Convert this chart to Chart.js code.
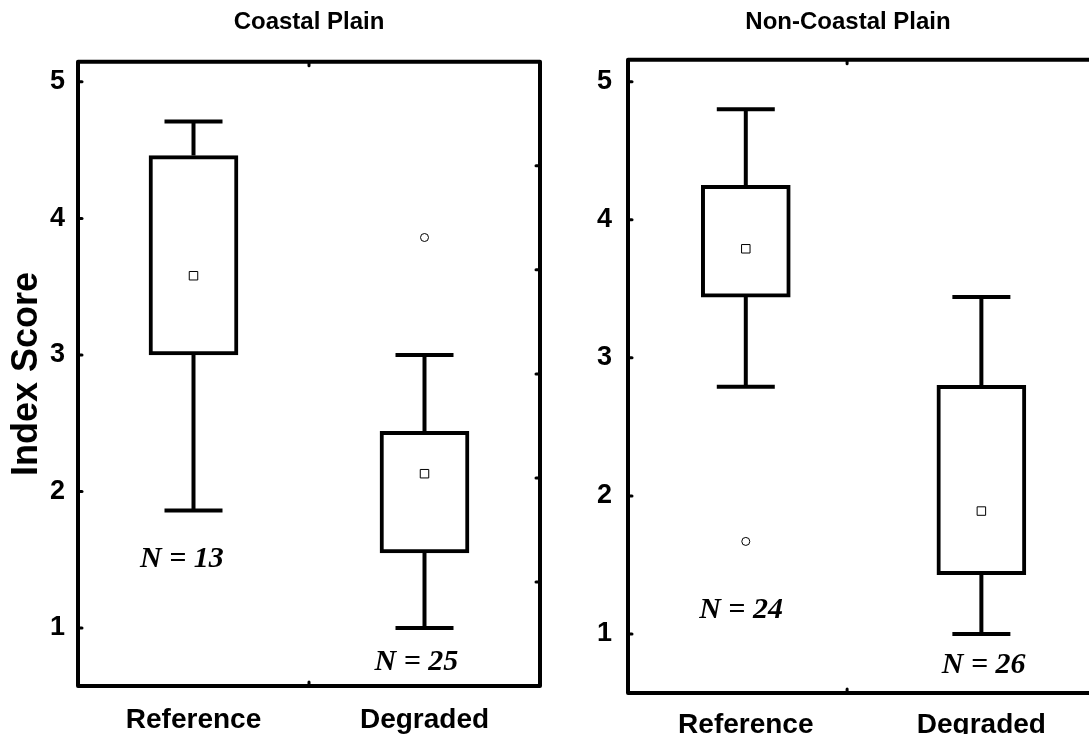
<!DOCTYPE html>
<html>
<head>
<meta charset="utf-8">
<script src="https://cdn.jsdelivr.net/npm/chart.js@4.4.1/dist/chart.umd.min.js"></script>
<style>
  html, body { margin: 0; padding: 0; background: #fff; overflow: hidden; }
  #wrap { position: relative; width: 1089px; height: 734px; overflow: hidden; }
  #leftBox { position: absolute; left: 0; top: 0; width: 545px; height: 734px; }
  #rightBox { position: absolute; left: 545px; top: 0; width: 606px; height: 734px; }
</style>
</head>
<body>
<div id="wrap">
  <div id="leftBox"><canvas id="coastalChart"></canvas></div>
  <div id="rightBox"><canvas id="nonCoastalChart"></canvas></div>
</div>
<script>
const groups = ['Reference', 'Degraded'];
const yTicks = [1, 2, 3, 4, 5];
const rightEdgeTicks = [1, 2, 3, 4, 5];

// Coastal Plain
const coastalMin = [1.86, 1.00];
const coastalQ1 = [3.00, 1.55];
const coastalQ3 = [4.46, 2.44];
const coastalMax = [4.71, 3.00];
const coastalMean = [3.58, 2.13];
const coastalOutliers = [[], [3.86]];
const coastalN = ['N = 13', 'N = 25'];

// Non-Coastal Plain
const nonCoastalMin = [2.79, 1.00];
const nonCoastalQ1 = [3.44, 1.43];
const nonCoastalQ3 = [4.25, 2.80];
const nonCoastalMax = [4.80, 3.44];
const nonCoastalMean = [3.79, 1.89];
const nonCoastalOutliers = [[1.67], []];
const nonCoastalN = ['N = 24', 'N = 26'];

Chart.defaults.font.family = '"Liberation Sans", Arial, sans-serif';
Chart.defaults.color = '#000';

// frame, inward ticks and the N = .. notes
const framePlugin = {
    id: 'framePlugin',
    afterDatasetsDraw(chart, args, opts) {
        const { ctx, chartArea: a, scales } = chart;
        ctx.save();
        ctx.strokeStyle = '#000';
        ctx.fillStyle = '#000';
        ctx.lineWidth = 4;
        ctx.lineJoin = 'round';
        ctx.strokeRect(a.left, a.top, a.right - a.left, a.bottom - a.top);

        ctx.lineWidth = 3;
        ctx.lineCap = 'round';
        const tick = (x1, y1, x2, y2) => {
            ctx.beginPath();
            ctx.moveTo(x1, y1);
            ctx.lineTo(x2, y2);
            ctx.stroke();
        };
        scales.y.ticks.forEach(t => {
            const py = scales.y.getPixelForValue(t.value);
            tick(a.left, py, a.left + 4, py);
        });
        if (scales.y2) {
            scales.y2.ticks.forEach(t => {
                const py = scales.y2.getPixelForValue(t.value);
                tick(a.right, py, a.right - 4, py);
            });
        }
        opts.xMarks.forEach(v => {
            const px = scales.x.getPixelForValue(v);
            tick(px, a.top, px, a.top + 4);
            tick(px, a.bottom, px, a.bottom - 4);
        });

        ctx.font = 'italic bold 30px "Liberation Serif", "Times New Roman", serif';
        ctx.textAlign = 'center';
        ctx.textBaseline = 'middle';
        opts.notes.forEach((text, i) => {
            ctx.fillText(text,
                scales.x.getPixelForValue(opts.noteX[i]),
                scales.y.getPixelForValue(opts.noteY[i]));
        });
        ctx.restore();
    }
};

function makeBoxChart(canvasId, d, look) {
    const stems = [];
    const caps = [];
    const boxes = [];
    const means = [];
    const outliers = [];
    groups.forEach((g, i) => {
        const x = i + 1;
        stems.push({ x: x, y: d.q3[i] }, { x: x, y: d.max[i] }, { x: x, y: null });
        stems.push({ x: x, y: d.q1[i] }, { x: x, y: d.min[i] }, { x: x, y: null });
        caps.push({ x: x, y: d.max[i] }, { x: x, y: d.min[i] });
        boxes.push({ x: x, y: [d.q1[i], d.q3[i]] });
        means.push({ x: x, y: d.mean[i] });
        d.outliers[i].forEach(v => outliers.push({ x: x, y: v }));
    });

    const scales = {
        x: {
            type: 'linear',
            min: 0.5,
            max: look.xMax,
            offset: false,
            grid: { display: false, offset: false },
            border: { display: false },
            afterBuildTicks: s => { s.ticks = groups.map((g, i) => ({ value: i + 1 })); },
            afterFit: s => { s.height = look.xAxisHeight; },
            ticks: {
                callback: v => groups[v - 1],
                font: { size: 28, weight: 'bold' },
                padding: look.xPad,
                maxRotation: 0,
                autoSkip: false
            }
        },
        y: {
            type: 'linear',
            min: look.yMin,
            max: look.yMax,
            grid: { display: false },
            border: { display: false },
            afterBuildTicks: s => { s.ticks = yTicks.map(v => ({ value: v })); },
            afterFit: s => { s.width = look.yAxisWidth; },
            ticks: {
                font: { size: 27, weight: 'bold' },
                padding: look.yPad
            },
            title: {
                display: !!look.yTitle,
                text: look.yTitle || '',
                font: { size: 36, weight: 'bold' },
                padding: { top: 5, bottom: 0 }
            }
        }
    };
    if (look.rightAxis) {
        scales.y2 = {
            type: 'linear',
            position: 'right',
            min: 0,
            max: 6,
            grid: { display: false },
            border: { display: false },
            afterBuildTicks: s => { s.ticks = rightEdgeTicks.map(v => ({ value: v })); },
            afterFit: s => { s.width = 0; },
            ticks: { display: false }
        };
    }

    const ctx = document.getElementById(canvasId).getContext('2d');
    return new Chart(ctx, {
        type: 'bar',
        data: {
            datasets: [
                {
                    type: 'scatter',
                    data: means,
                    pointStyle: 'rect',
                    pointRadius: 6,
                    backgroundColor: '#fff',
                    borderColor: '#000',
                    borderWidth: 1
                },
                {
                    type: 'scatter',
                    data: outliers,
                    pointStyle: 'circle',
                    pointRadius: 4,
                    backgroundColor: '#fff',
                    borderColor: '#000',
                    borderWidth: 1
                },
                {
                    type: 'bar',
                    data: boxes,
                    grouped: false,
                    barThickness: 89,
                    backgroundColor: '#fff',
                    borderColor: '#000',
                    borderWidth: 4,
                    borderSkipped: false
                },
                {
                    type: 'scatter',
                    data: caps,
                    pointStyle: 'line',
                    pointRadius: 29,
                    borderColor: '#000',
                    borderWidth: 4
                },
                {
                    type: 'line',
                    data: stems,
                    spanGaps: false,
                    pointRadius: 0,
                    borderColor: '#000',
                    borderWidth: 4,
                    fill: false
                }
            ]
        },
        options: {
            responsive: true,
            maintainAspectRatio: false,
            animation: false,
            events: [],
            layout: {
                autoPadding: false,
                padding: { left: 0, right: look.padRight, top: 0, bottom: 0 }
            },
            scales: scales,
            plugins: {
                legend: { display: false },
                tooltip: { enabled: false },
                title: {
                    display: true,
                    text: look.title,
                    fullSize: look.titleFull,
                    font: { size: 24, weight: 'bold' },
                    padding: look.titlePad
                },
                framePlugin: {
                    xMarks: look.xMarks,
                    notes: d.notes,
                    noteX: look.noteX,
                    noteY: look.noteY
                }
            }
        },
        plugins: [framePlugin]
    });
}

makeBoxChart('coastalChart', {
    min: coastalMin, q1: coastalQ1, q3: coastalQ3, max: coastalMax,
    mean: coastalMean, outliers: coastalOutliers, notes: coastalN
}, {
    title: 'Coastal Plain',
    titleFull: false,
    titlePad: { top: 8, bottom: 25 },
    yTitle: 'Index Score',
    xMax: 2.5,
    yMin: 0.575, yMax: 5.147,
    yAxisWidth: 78, xAxisHeight: 48,
    yPad: 5, xPad: 9,
    padRight: 5,
    rightAxis: true,
    xMarks: [1.5],
    noteX: [0.95, 1.965],
    noteY: [1.50, 0.75]
});

makeBoxChart('nonCoastalChart', {
    min: nonCoastalMin, q1: nonCoastalQ1, q3: nonCoastalQ3, max: nonCoastalMax,
    mean: nonCoastalMean, outliers: nonCoastalOutliers, notes: nonCoastalN
}, {
    title: 'Non-Coastal Plain',
    titleFull: true,
    titlePad: { top: 8, bottom: 23 },
    yTitle: null,
    xMax: 2.72,
    yMin: 0.572, yMax: 5.159,
    yAxisWidth: 83, xAxisHeight: 41,
    yPad: 8, xPad: 7,
    padRight: 0,
    rightAxis: false,
    xMarks: [1.43],
    noteX: [0.98, 2.01],
    noteY: [1.174, 0.775]
});
</script>
</body>
</html>
